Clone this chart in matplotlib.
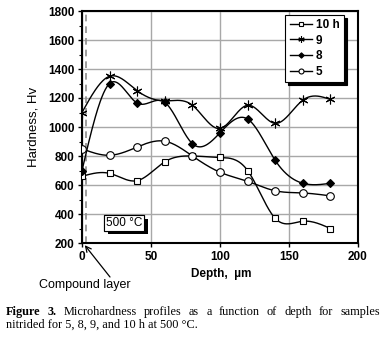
import numpy as np
import matplotlib
matplotlib.use("Agg")
import matplotlib.pyplot as plt
from matplotlib import patheffects

# ---- data ----
depth = [0, 20, 40, 60, 80, 100, 120, 140, 160, 180]
h10 = [660, 680, 630, 760, 800, 790, 700, 370, 350, 300]
h9 = [1100, 1350, 1250, 1180, 1150, 990, 1150, 1025, 1185, 1190]
h8 = [700, 1300, 1165, 1170, 885, 960, 1055, 770, 612, 612]
h5 = [850, 805, 862, 902, 800, 688, 625, 560, 545, 525]
labels = ["10 h", "9", "8", "5"]
x_ticks = [0, 50, 100, 150, 200]
y_ticks = [200, 400, 600, 800, 1000, 1200, 1400, 1600, 1800]
compound_x = 3

plt.rcParams['font.family'] = ['Liberation Sans', 'DejaVu Sans']


def natural_spline(x, y, n=300):
    x = np.asarray(x, float)
    y = np.asarray(y, float)
    h = np.diff(x)
    nn = len(x)
    A = np.zeros((nn, nn))
    b = np.zeros(nn)
    A[0, 0] = 1
    A[-1, -1] = 1
    for i in range(1, nn - 1):
        A[i, i - 1] = h[i - 1]
        A[i, i] = 2 * (h[i - 1] + h[i])
        A[i, i + 1] = h[i]
        b[i] = 3 * ((y[i + 1] - y[i]) / h[i] - (y[i] - y[i - 1]) / h[i - 1])
    c = np.linalg.solve(A, b)
    bb = (y[1:] - y[:-1]) / h - h * (2 * c[:-1] + c[1:]) / 3
    d = (c[1:] - c[:-1]) / (3 * h)
    xs = np.linspace(x[0], x[-1], n)
    idx = np.clip(np.searchsorted(x, xs) - 1, 0, nn - 2)
    dx = xs - x[idx]
    ys = y[idx] + bb[idx] * dx + c[idx] * dx ** 2 + d[idx] * dx ** 3
    return xs, ys


fig = plt.figure(figsize=(3.88, 3.37), dpi=100)
W, H = 388, 337
ax = fig.add_axes([82 / W, 1 - 243 / H, (358 - 82) / W, (243 - 11) / H])

series = [
    (h10, dict(marker='s', mfc='white', mec='black', ms=5, mew=0.8)),
    (h9, dict(marker=(6, 2, 0), mfc='black', mec='black', ms=7, mew=0.8)),
    (h8, dict(marker='D', mfc='black', mec='black', ms=4.2, mew=0.8)),
    (h5, dict(marker='o', mfc='white', mec='black', ms=5.5, mew=0.8)),
]
handles = []
for (vals, mk), lab in zip(series, labels):
    xs, ys = natural_spline(depth, vals)
    ax.plot(xs, ys, color='black', lw=1.0, zorder=3)
    ax.plot(depth, vals, ls='none', zorder=4, **mk)
    hmk = dict(mk)
    hmk['ms'] = mk['ms'] * 0.65
    handles.append(plt.Line2D([], [], color='black', lw=1.0, label=lab, **hmk))

ax.axvline(compound_x, color='#8c8c8c', lw=1.2, dashes=(4, 3), zorder=2)

ax.set_xlim(0, 200)
ax.set_ylim(200, 1800)
ax.set_xticks(x_ticks)
ax.set_yticks(y_ticks)
ax.set_yticks(np.arange(300, 1800, 200), minor=True)
ax.grid(True, which='major', color='#a8a8a8', lw=1.0, zorder=0)
ax.set_axisbelow(True)
for s in ax.spines.values():
    s.set_linewidth(1.5)
ax.tick_params(which='major', direction='out', length=3, width=1.0, pad=2.5,
               labelsize=8.5)
ax.tick_params(which='minor', direction='out', length=2, width=0.8)
for t in ax.get_xticklabels() + ax.get_yticklabels():
    t.set_fontweight('bold')

leg = ax.legend(handles=handles, loc='upper left', bbox_to_anchor=(0.737, 0.983),
                borderaxespad=0, frameon=True, fancybox=False,
                shadow={'color': 'black', 'alpha': 1},
                prop={'weight': 'bold', 'size': 8.5},
                handlelength=1.9, handletextpad=0.35, labelspacing=0.3,
                borderpad=0.35)
leg.get_frame().set_edgecolor('black')
leg.get_frame().set_linewidth(0.8)
leg.get_frame().set_alpha(1)

# 500 °C box with shadow
tx, ty = 30.5, 338
t500 = ax.text(tx, ty, "500 °C", fontsize=8.5, ha='center', va='center', zorder=6,
               bbox=dict(boxstyle='square,pad=0.15', fc='white', ec='black', lw=0.8))
t500.get_bbox_patch().set_path_effects([
    patheffects.withSimplePatchShadow(offset=(2.5, -2.5), shadow_rgbFace='black',
                                      alpha=1.0),
    patheffects.Normal()])

# axis labels
fig.text(221 / W, 1 - 274 / H, "Depth,  µm", fontsize=8.5, fontweight='bold',
         ha='center', va='center')
fig.text(33 / W, 1 - 127 / H, "Hardness, Hv", fontsize=9.5, rotation=90,
         ha='center', va='center')

# compound layer annotation
fig.text(85 / W, 1 - 285 / H, "Compound layer", fontsize=9, ha='center', va='center')
ax.annotate("", xy=(2, 185), xycoords='data',
            xytext=(110 / W, 1 - 277 / H), textcoords='figure fraction',
            arrowprops=dict(arrowstyle='->', lw=0.9, color='black',
                            shrinkA=0, shrinkB=0),
            annotation_clip=False)

# caption (justified first line)
serif = ['Liberation Serif', 'DejaVu Serif']
cap_size = 8.8
line1 = [("Figure", 'bold'), ("3.", 'bold'), ("Microhardness", 'normal'),
         ("profiles", 'normal'), ("as", 'normal'), ("a", 'normal'),
         ("function", 'normal'), ("of", 'normal'), ("depth", 'normal'),
         ("for", 'normal'), ("samples", 'normal')]
line2 = "nitrided for 5, 8, 9, and 10 h at 500 °C."
x0, x1 = 6, 380
y1, y2 = 312, 325
renderer = fig.canvas.get_renderer()
texts = []
total = 0
for w, wt in line1:
    t = fig.text(0, 1 - y1 / H, w, fontsize=cap_size, fontweight=wt, family=serif,
                 ha='left', va='center')
    bb = t.get_window_extent(renderer)
    texts.append((t, bb.width))
    total += bb.width
gap = (x1 - x0 - total) / (len(line1) - 1)
cx = x0
for t, wdt in texts:
    t.set_x(cx / W)
    cx += wdt + gap
fig.text(x0 / W, 1 - y2 / H, line2, fontsize=cap_size, family=serif,
         ha='left', va='center')

fig.savefig("out.png", dpi=100)
